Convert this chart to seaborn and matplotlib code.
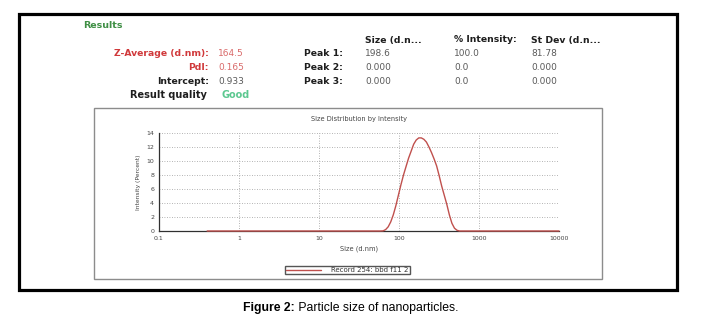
"""Zetasizer-style particle size report: results table and intensity distribution."""

import matplotlib

matplotlib.use("Agg")
import matplotlib.pyplot as plt
import seaborn as sns
from matplotlib import font_manager
from matplotlib.lines import Line2D
from matplotlib.patches import Rectangle
from matplotlib.ticker import FixedLocator, NullFormatter

# size bins (d.nm) and intensity (%)
SIZES = [0.4, 58.77, 63.2, 68.06, 73.3, 78.82, 84.8, 91.28, 98.2, 105.7, 113.8,
         122.4, 131.7, 141.8, 152.6, 164.2, 176.7, 190.1, 204.6, 220.2, 236.9,
         255.0, 274.4, 295.3, 317.8, 342.0, 368.1, 396.1, 426.3, 458.7, 493.7,
         531.2, 571.6, 10000]
INTENSITY = [0, 0, 0.02, 0.2, 0.6, 1.3, 2.3, 3.6, 5.1, 6.6, 8.0,
             9.2, 10.4, 11.4, 12.4, 13.0, 13.3, 13.3, 13.1, 12.7, 12.0,
             11.2, 10.3, 9.3, 7.9, 6.4, 5.1, 3.8, 2.3, 1.1, 0.4,
             0.1, 0, 0]

X_TICKS = [0.1, 1, 10, 100, 1000, 10000]
X_TICK_LABELS = ["0.1", "1", "10", "100", "1000", "10000"]
Y_TICKS = [0, 2, 4, 6, 8, 10, 12, 14]

SUMMARY_LABELS = ["Z-Average (d.nm):", "PdI:", "Intercept:"]
SUMMARY_VALUES = ["164.5", "0.165", "0.933"]
PEAK_LABELS = ["Peak 1:", "Peak 2:", "Peak 3:"]
PEAK_COLUMNS = ["Size (d.n...", "% Intensity:", "St Dev (d.n..."]
PEAK_VALUES = [
    ["198.6", "100.0", "81.78"],
    ["0.000", "0.0", "0.000"],
    ["0.000", "0.0", "0.000"],
]
QUALITY = "Good"
LEGEND_LABEL = "Record 254: bbd f11 2"
CAPTION_BOLD = "Figure 2:"
CAPTION_REST = " Particle size of nanoparticles."

W, H = 708, 324
RED = "#d0393b"
RED_VAL = "#d96a6a"
GREEN = "#3f8f45"
GOOD = "#5cc890"
DARK = "#1e1e1e"
GREY = "#5a5a5a"
LINE = "#c0504d"


def fx(px):
    return px / W


def fy(py):
    return 1 - py / H


sns.set_style("white")
plt.rcParams["font.family"] = ["DejaVu Sans"]

fig = plt.figure(figsize=(W / 100, H / 100), dpi=100)

# outer black frame and grey chart box
fig.patches.append(Rectangle((fx(19), fy(290)), fx(677) - fx(19), fy(14) - fy(290),
                             transform=fig.transFigure, fill=False, ec="black", lw=2.3))
fig.patches.append(Rectangle((fx(94), fy(279)), fx(602) - fx(94), fy(108) - fy(279),
                             transform=fig.transFigure, fill=False, ec="#8c8c8c", lw=1.0))

# results table
fig.text(fx(83), fy(26), "Results", color=GREEN, fontsize=6.8, fontweight="bold", va="center")
rows_y = [53, 67, 81]
label_colors = [RED, RED, DARK]
value_colors = [RED_VAL, RED_VAL, GREY]
for lab, val, y, lc, vc in zip(SUMMARY_LABELS, SUMMARY_VALUES, rows_y, label_colors, value_colors):
    fig.text(fx(209), fy(y), lab, color=lc, fontsize=6.7, fontweight="bold", ha="right", va="center")
    fig.text(fx(218), fy(y), val, color=vc, fontsize=6.5, va="center")
fig.text(fx(207), fy(95), "Result quality", color=DARK, fontsize=7, fontweight="bold",
         ha="right", va="center")
fig.text(fx(221), fy(95), QUALITY, color=GOOD, fontsize=7, fontweight="bold", va="center")

col_x = [365, 454, 531]
for cx, head in zip(col_x, PEAK_COLUMNS):
    fig.text(fx(cx), fy(40), head, color=DARK, fontsize=6.7, fontweight="bold", va="center")
for lab, vals, y in zip(PEAK_LABELS, PEAK_VALUES, rows_y):
    fig.text(fx(343), fy(y), lab, color=DARK, fontsize=6.7, fontweight="bold", ha="right", va="center")
    for cx, v in zip(col_x, vals):
        fig.text(fx(cx), fy(y), v, color=GREY, fontsize=6.5, va="center")

# distribution plot
ax = fig.add_axes([fx(159), fy(231), fx(559) - fx(159), fy(133) - fy(231)])
sns.lineplot(x=SIZES, y=INTENSITY, ax=ax, color=LINE, lw=1.0, clip_on=False, zorder=5)
ax.set_xscale("log")
ax.set_xlim(0.1, 10000)
ax.set_ylim(0, 14)
ax.set_xticks(X_TICKS, X_TICK_LABELS)
ax.xaxis.set_minor_locator(FixedLocator([m * 10.0 ** e for e in range(-1, 4) for m in range(2, 10)]))
ax.xaxis.set_minor_formatter(NullFormatter())
ax.set_yticks(Y_TICKS, [str(t) for t in Y_TICKS])
ax.yaxis.set_minor_locator(FixedLocator([1, 3, 5, 7, 9, 11, 13]))
ax.tick_params(which="major", direction="inout", length=4, width=0.8, color="#303030",
               labelsize=4.5, labelcolor="#444444", pad=1.5)
ax.tick_params(which="minor", direction="inout", length=2.5, width=0.7, color="#303030")
ax.grid(True, which="major", linestyle=(0, (1, 2)), color="#9a9a9a", lw=0.6)
for side in ("top", "right"):
    ax.spines[side].set_visible(False)
for side in ("left", "bottom"):
    ax.spines[side].set_color("#303030")
    ax.spines[side].set_linewidth(0.9)
ax.set_xlabel("Size (d.nm)", fontsize=4.8, color="#444444", labelpad=3)
ax.set_ylabel("Intensity (Percent)", fontsize=4.3, color="#444444", labelpad=4)
ax.set_title("Size Distribution by Intensity", fontsize=4.8, color="#444444", pad=9)

handle = Line2D([], [], color=LINE, lw=1.0)
fig.legend([handle], [LEGEND_LABEL], loc="center", bbox_to_anchor=(fx(347.5), fy(270)),
           fontsize=5, frameon=True, fancybox=False, edgecolor="#555555", framealpha=1,
           borderpad=0.15, handlelength=5, handletextpad=1.5, labelcolor="#333333")

# caption: bold part followed by regular part
names = {f.name for f in font_manager.fontManager.ttflist}
if "Liberation Sans Narrow" in names:
    cap_family, cap_size = ["Liberation Sans Narrow"], 9
else:
    cap_family, cap_size = ["Liberation Sans"], 8.8
t1 = fig.text(fx(243), fy(308), CAPTION_BOLD, family=cap_family, fontsize=cap_size,
              fontweight="bold", va="center", color="black")
fig.canvas.draw()
bb = t1.get_window_extent(renderer=fig.canvas.get_renderer())
fig.text(bb.x1 / fig.bbox.width, fy(308), CAPTION_REST, family=cap_family, fontsize=cap_size,
         va="center", color="black")

fig.savefig("out.png", dpi=100)
